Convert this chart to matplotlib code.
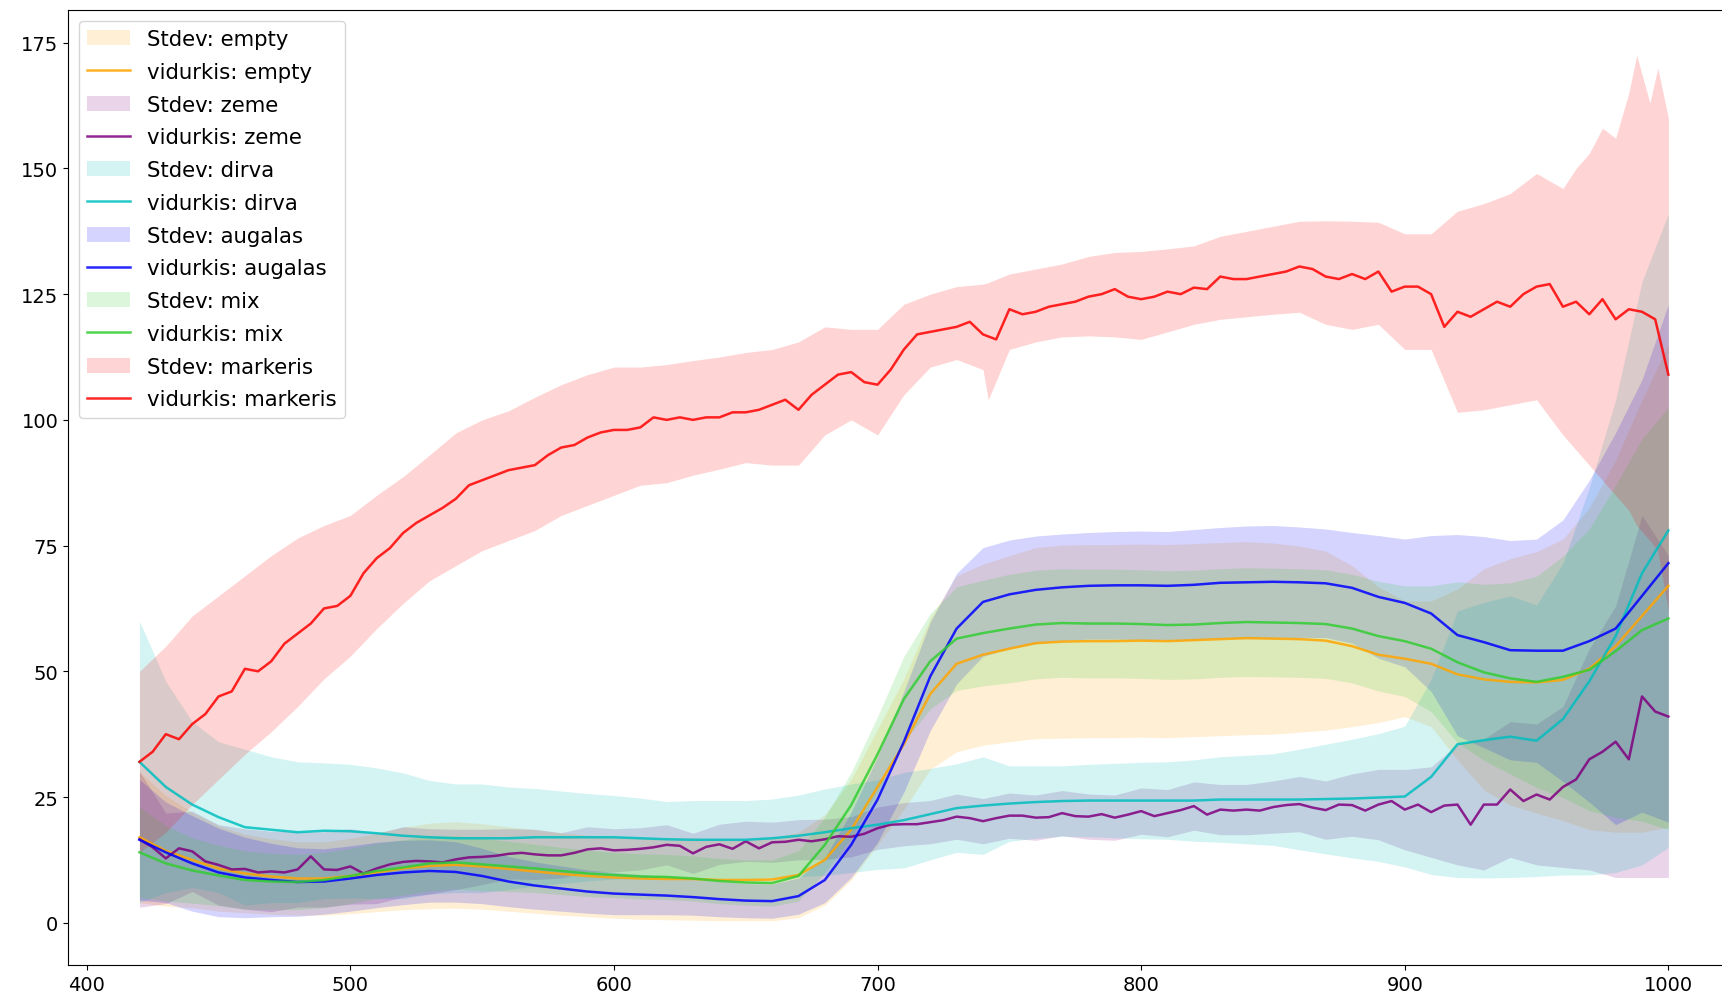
import numpy as np
import matplotlib
matplotlib.use("Agg")
import matplotlib.pyplot as plt

# ---------------- data ----------------
wl = np.arange(420, 1001, 10)          # 10 nm grid (59 points)
wl_fine = np.arange(420, 1001, 5)      # 5 nm grid (117 points)

classes = ["empty", "zeme", "dirva", "augalas", "mix", "markeris"]
colors = {"empty": "orange", "zeme": "purple", "dirva": "c",
          "augalas": "b", "mix": "limegreen", "markeris": "r"}

empty_mean = [17, 14.3, 12.5, 10.8, 9.8, 9.2, 8.8, 8.8, 9.3, 10,
              10.8, 11.3, 11.5, 11.2, 10.7, 10.2, 9.7, 9.3, 9.0, 8.8,
              8.7, 8.7, 8.5, 8.5, 8.6, 9.5, 12.5, 18.5, 27, 35.5,
              45.5, 51.5, 53.3, 54.5, 55.6, 55.9, 56, 56, 56.1, 56,
              56.2, 56.4, 56.6, 56.5, 56.4, 56.1, 55, 53.3, 52.5, 51.5,
              49.4, 48.4, 47.9, 47.8, 48.3, 50.5, 55, 61, 67]
empty_std = [13, 11, 9.5, 8.5, 7.8, 7.5, 7.3, 7.3, 7.5, 7.8,
             8.2, 8.5, 8.6, 8.5, 8.4, 8.3, 8.2, 8.1, 8.1, 8.1,
             8.1, 8.2, 8.1, 8.1, 8.2, 8.5, 9, 10, 11.5, 13,
             15, 17.5, 18, 18.5, 19, 19.2, 19.2, 19.2, 19.2, 19.2,
             19.2, 19.2, 19.2, 19, 18.5, 17.8, 16, 13.5, 11.5, 12.5,
             17, 22, 24.5, 26, 28, 32, 37, 43, 48]

zeme_mean_fine = [16.6, 15.0, 12.8, 14.8, 14.2, 12.2, 11.5, 10.6, 10.7, 10.0,
                  10.2, 10.0, 10.6, 13.2, 10.6, 10.5, 11.2, 9.8, 10.8, 11.6,
                  12.1, 12.3, 12.2, 12.0, 12.6, 13.0, 13.1, 13.3, 13.7, 13.9,
                  13.6, 13.4, 13.4, 13.9, 14.6, 14.8, 14.4, 14.5, 14.7, 15.0,
                  15.5, 15.3, 13.8, 15.1, 15.6, 14.7, 16.2, 14.8, 16.0, 16.1,
                  16.5, 16.2, 16.6, 17.2, 17.1, 17.7, 18.8, 19.5, 19.6, 19.6,
                  20.0, 20.4, 21.1, 20.8, 20.2, 20.8, 21.3, 21.3, 20.9, 21.0,
                  21.8, 21.2, 21.1, 21.6, 20.9, 21.5, 22.2, 21.2, 21.8, 22.4,
                  23.2, 21.5, 22.5, 22.3, 22.5, 22.3, 23.0, 23.4, 23.6, 22.9,
                  22.4, 23.5, 23.4, 22.3, 23.5, 24.2, 22.5, 23.5, 22.0, 23.3,
                  23.5, 19.5, 23.5, 23.5, 26.5, 24.2, 25.5, 24.5, 27.0, 28.5,
                  32.5, 34.0, 36.0, 32.5, 45.0, 42.0, 41.0]
zeme_std = [13.5, 9, 8, 8, 8, 8, 7.5, 7.5, 7.5, 7,
            7, 6.5, 6, 5.5, 5, 5, 4.5, 4.5, 4.3, 4.2,
            4, 4, 4, 4, 4, 4, 4, 4, 4.2, 4.3,
            4.3, 4.5, 4.5, 4.5, 4.5, 4.5, 4.5, 4.5, 4.6, 4.7,
            4.8, 5, 5, 5.2, 5.5, 5.8, 6.2, 7, 8, 9,
            12, 13, 13.5, 14, 16, 22, 27, 36, 32]

dirva_mean = [32, 27, 23.5, 21, 19, 18.5, 18, 18.3, 18.2, 17.8,
              17.3, 17, 16.8, 16.8, 16.8, 17, 17, 17, 17, 16.8,
              16.6, 16.5, 16.5, 16.5, 16.8, 17.3, 18, 18.8, 19.5, 20.4,
              21.6, 22.8, 23.3, 23.7, 24, 24.2, 24.3, 24.3, 24.3, 24.3,
              24.3, 24.5, 24.5, 24.5, 24.5, 24.6, 24.7, 24.9, 25.1, 29,
              35.5, 36.3, 37, 36.2, 40.5, 48, 57, 69.5, 78]
dirva_std = [28, 21, 16.5, 15, 15.5, 14.5, 14, 13.5, 13.3, 13,
             12.5, 11.3, 10.8, 10.8, 10.2, 9.7, 9.2, 8.7, 8.3, 8,
             7.5, 7.8, 7.8, 7.8, 7.8, 8.1, 8.6, 8.8, 8.9, 9.5,
             9.1, 8.8, 9.7, 7.5, 7.2, 7, 7.2, 7.4, 7.6, 7.7,
             8.1, 8.5, 8.8, 9.1, 10, 10.9, 11.8, 12.7, 14, 19.4,
             26.5, 27.4, 28, 27, 31, 38.5, 47, 58, 63]

augalas_mean = [16.5, 14, 11.8, 10, 9, 8.5, 8.1, 8.2, 8.8, 9.5,
                10, 10.3, 10.1, 9.3, 8.2, 7.4, 6.8, 6.2, 5.8, 5.6,
                5.4, 5.1, 4.7, 4.4, 4.3, 5.3, 8.5, 15.5, 24.5, 36,
                49, 58.5, 63.8, 65.3, 66.2, 66.7, 67, 67.1, 67.1, 67,
                67.2, 67.6, 67.7, 67.8, 67.7, 67.5, 66.6, 64.8, 63.6, 61.5,
                57.2, 55.8, 54.2, 54.1, 54.1, 56, 58.5, 65, 71.5]
augalas_std = [12, 10, 9.5, 8.8, 8, 7.3, 6.8, 6.5, 6.5, 6.5,
               6.4, 6.2, 6, 5.5, 5, 4.7, 4.5, 4.3, 4.2, 4,
               3.8, 3.6, 3.5, 3.4, 3.4, 3.6, 4.5, 6.5, 8.5, 10,
               10.8, 11, 10.8, 10.8, 10.7, 10.6, 10.6, 10.7, 10.8, 10.8,
               11, 11, 11.2, 11.2, 11, 10.8, 11, 12.2, 12.7, 15.5,
               20, 21, 21.8, 22.2, 26, 32, 39, 43, 51.5]

mix_mean = [14, 11.8, 10.4, 9.4, 8.5, 8.2, 8.1, 8.5, 9.3, 10.3,
            11, 11.8, 12, 11.6, 11.2, 10.8, 10.3, 9.8, 9.5, 9.2,
            9.1, 8.8, 8.3, 8, 7.9, 9.3, 15.5, 23.4, 33.5, 44.5,
            52, 56.5, 57.6, 58.5, 59.3, 59.6, 59.5, 59.5, 59.4, 59.2,
            59.3, 59.6, 59.8, 59.7, 59.6, 59.4, 58.5, 57, 56, 54.5,
            51.8, 49.8, 48.6, 47.9, 48.9, 50.3, 54, 58.2, 60.5]
mix_std = [9, 7.5, 6.5, 6, 5.8, 5.6, 5.5, 5.5, 5.5, 5.5,
           5.5, 5.5, 5.3, 5.2, 5, 4.8, 4.7, 4.6, 4.5, 4.5,
           4.5, 4.5, 4.5, 4.5, 4.6, 5, 5.5, 6.5, 7.5, 8.5,
           9.5, 10.3, 10.5, 10.8, 10.8, 10.8, 10.8, 10.8, 10.8, 10.8,
           10.8, 10.8, 10.8, 10.8, 10.8, 10.8, 10.8, 10.9, 11, 12.5,
           16, 17.5, 19, 21, 24, 28, 33, 38, 42]

markeris_mean_fine = [32, 34, 37.5, 36.5, 39.5, 41.5, 45, 46, 50.5, 50,
                      52, 55.5, 57.5, 59.5, 62.5, 63, 65, 69.5, 72.5, 74.5,
                      77.5, 79.5, 81, 82.5, 84.3, 87, 88, 89, 90, 90.5,
                      91, 93, 94.5, 95, 96.5, 97.5, 98, 98, 98.5, 100.5,
                      100, 100.5, 100, 100.5, 100.5, 101.5, 101.5, 102, 103, 104,
                      102, 105, 107, 109, 109.5, 107.5, 107, 110, 114, 117,
                      117.5, 118, 118.5, 119.5, 117, 116, 122, 121, 121.5, 122.5,
                      123, 123.5, 124.5, 125, 126, 124.5, 124, 124.5, 125.5, 125,
                      126.3, 126, 128.5, 128, 128, 128.5, 129, 129.5, 130.5, 130,
                      128.5, 128, 129, 128, 129.5, 125.5, 126.5, 126.5, 125, 118.5,
                      121.5, 120.5, 122, 123.5, 122.5, 125, 126.5, 127, 122.5, 123.5,
                      121, 124, 120, 122, 121.5, 120, 109]

markeris_band_wl = [420, 430, 440, 450, 460, 470, 480, 490, 500, 510,
                    520, 530, 540, 550, 560, 570, 580, 590, 600, 610,
                    620, 630, 640, 650, 660, 670, 680, 690, 700, 710,
                    720, 730, 740, 742, 750, 760, 770, 780, 790, 800,
                    810, 820, 830, 840, 850, 860, 870, 880, 890, 900,
                    910, 920, 930, 940, 950, 960, 965, 970, 975, 980,
                    985, 988, 993, 996, 1000]
markeris_lo = [14, 18, 23.5, 28.5, 33.5, 38, 43, 48.5, 53, 58.5,
               63.5, 68, 71, 74, 76, 78, 81, 83, 85, 87,
               87.5, 89, 90.2, 91.5, 91, 91, 97, 100, 97, 105,
               110.5, 112, 110, 104, 114, 115.5, 116.5, 116.7, 116.5, 116,
               117.5, 119, 120, 120.5, 121, 121.4, 119, 118, 119, 114,
               114, 101.5, 102, 103, 104, 97, 94, 91, 88, 85,
               82, 79, 76, 74, 62]
markeris_hi = [50, 55, 61, 65, 69, 73, 76.5, 79, 81, 85,
               88.7, 93, 97.4, 100, 101.8, 104.5, 107, 109, 110.5, 110.5,
               111, 111.8, 112.5, 113.4, 114, 115.5, 118.5, 118, 118, 123,
               125, 126.5, 127, 127.3, 129, 130, 131, 132.5, 133.3, 133.5,
               134, 134.6, 136.5, 137.5, 138.5, 139.5, 139.6, 139.5, 139.3, 137,
               137, 141.5, 143, 145, 149, 146, 150, 153, 158, 156,
               165, 172.5, 163, 170, 160]

# ---------------- plot ----------------
fig = plt.figure(figsize=(17.22, 10.03), dpi=100)
ax = fig.add_axes([0.0395, 0.0364, 0.9615, 0.9526])

band_alpha = 0.17
line_alpha = 0.85

series = {
    "empty": (wl, empty_mean, empty_std),
    "zeme": (wl_fine, zeme_mean_fine, zeme_std),
    "dirva": (wl, dirva_mean, dirva_std),
    "augalas": (wl, augalas_mean, augalas_std),
    "mix": (wl, mix_mean, mix_std),
}

for name in classes:
    col = colors[name]
    if name == "markeris":
        ax.fill_between(markeris_band_wl, markeris_lo, markeris_hi,
                        color=col, alpha=band_alpha, linewidth=0,
                        label="Stdev: " + name)
        ax.plot(wl_fine, markeris_mean_fine, color=col, alpha=line_alpha,
                lw=1.8, label="vidurkis: " + name)
        continue
    x, m, s = series[name]
    m = np.asarray(m, dtype=float)
    s = np.asarray(s, dtype=float)
    mb = m[::2] if len(m) == len(wl_fine) else m
    ax.fill_between(wl, mb - s, mb + s, color=col, alpha=band_alpha,
                    linewidth=0, label="Stdev: " + name)
    ax.plot(x, m, color=col, alpha=line_alpha, lw=1.8,
            label="vidurkis: " + name)

ax.set_xlim(392.9, 1021)
ax.set_ylim(-8.5, 181.5)
ax.set_xticks([400, 500, 600, 700, 800, 900, 1000])
ax.set_yticks([0, 25, 50, 75, 100, 125, 150, 175])
ax.tick_params(labelsize=14)
ax.spines["right"].set_visible(False)

ax.legend(loc="upper left", fontsize=15.3, labelspacing=0.6)

fig.savefig("out.png", dpi=100)
